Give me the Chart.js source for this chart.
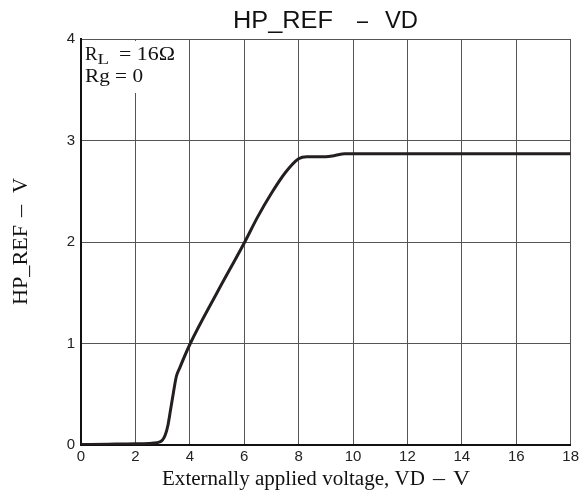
<!DOCTYPE html>
<html>
<head>
<meta charset="utf-8">
<script src="https://cdn.jsdelivr.net/npm/chart.js@4.4.1/dist/chart.umd.min.js"></script>
<style>
  html, body { margin: 0; padding: 0; background: #fff; }
  #wrap { width: 582px; height: 495px; }
</style>
</head>
<body>
<div id="wrap"><canvas id="chart"></canvas></div>
<script>
  // values
  var vd = [0, 1, 2, 2.6, 2.9, 3.0, 3.1, 3.2, 3.3, 3.4, 3.5, 3.63, 4, 5, 6, 6.5, 7, 7.5, 8, 8.3, 9, 9.3, 9.7, 10, 14, 18];
  var hpRef = [0.005, 0.008, 0.012, 0.018, 0.03, 0.05, 0.1, 0.2, 0.36, 0.52, 0.67, 0.76, 0.99, 1.5, 1.99, 2.25, 2.48, 2.68, 2.82, 2.84, 2.84, 2.85, 2.87, 2.87, 2.87, 2.87];
  var xTicks = [0, 2, 4, 6, 8, 10, 12, 14, 16, 18];
  var yTicks = [0, 1, 2, 3, 4];

  var points = vd.map(function (v, i) { return { x: v, y: hpRef[i] }; });

  var SERIF = "'Liberation Serif'";
  var SANS = "'Liberation Sans'";

  // draw text squeezed/stretched to span x0..x1 (the scan is wider than the fonts)
  function fitText(c, text, x0, x1, base, font) {
    c.save();
    c.font = font;
    c.textAlign = "left";
    c.textBaseline = "alphabetic";
    var w = c.measureText(text).width;
    c.translate(x0, base);
    c.scale((x1 - x0) / w, 1);
    c.fillText(text, 0, 0);
    c.restore();
  }

  var extras = {
    id: "extras",
    beforeDatasetsDraw: function (chart) {
      var c = chart.ctx, a = chart.chartArea;
      // condition note, blanks the grid behind it
      c.save();
      c.fillStyle = "#fff";
      c.fillRect(a.left + 2, a.top + 2, 96, 52);
      c.fillStyle = "#111";
      fitText(c, "R", 85, 97.5, 60, "18px " + SERIF);
      fitText(c, "L", 97.5, 109, 64, "15px " + SERIF);
      fitText(c, "= 16\u03A9", 119, 175, 60, "18px " + SERIF);
      fitText(c, "Rg = 0", 85, 143, 82, "18px " + SERIF);
      c.restore();
    },
    afterDraw: function (chart) {
      var c = chart.ctx;
      c.save();
      c.fillStyle = "#111";
      // chart title
      fitText(c, "HP_REF", 233, 333, 28, "23px " + SANS);
      fitText(c, "\u2013", 357, 368, 28, "23px " + SANS);
      fitText(c, "VD", 385, 418, 28, "23px " + SANS);
      // x axis title
      fitText(c, "Externally applied voltage, VD", 162, 425, 485, "20px " + SERIF);
      fitText(c, "\u2013", 433, 445, 485, "20px " + SERIF);
      fitText(c, "V", 453, 470, 485, "20px " + SERIF);
      // y axis title, rotated; along-text coordinates measured upward from y = 0
      c.translate(0, 0);
      c.rotate(-Math.PI / 2);
      fitText(c, "HP_REF", -305, -225, 27, "22px " + SERIF);
      fitText(c, "\u2013", -217, -205, 27, "22px " + SERIF);
      fitText(c, "V", -193, -178, 27, "22px " + SERIF);
      c.restore();
    }
  };

  var ctx = document.getElementById("chart").getContext("2d");
  var myChart = new Chart(ctx, {
    type: "line",
    data: {
      datasets: [
        {
          data: points,
          borderColor: "#231f20",
          borderWidth: 3,
          pointRadius: 0,
          cubicInterpolationMode: "monotone",
          fill: false,
        },
      ],
    },
    options: {
      responsive: true,
      maintainAspectRatio: false,
      animation: false,
      layout: { padding: { top: 39, right: 10, left: 0, bottom: 0 } },
      plugins: { legend: { display: false }, tooltip: { enabled: false } },
      scales: {
        x: {
          type: "linear",
          min: 0,
          max: 18,
          afterBuildTicks: function (s) { s.ticks = xTicks.map(function (v) { return { value: v }; }); },
          afterFit: function (s) { s.height = 50; },
          grid: { color: "#555", lineWidth: 1, drawTicks: false },
          border: { color: "#111", width: 2 },
          ticks: { color: "#222", padding: 3, maxRotation: 0, font: { family: SANS, size: 15 } },
        },
        y: {
          min: 0,
          max: 4,
          afterBuildTicks: function (s) { s.ticks = yTicks.map(function (v) { return { value: v }; }); },
          afterFit: function (s) { s.width = 81; },
          grid: { color: "#555", lineWidth: 1, drawTicks: false },
          border: { color: "#111", width: 2 },
          ticks: { color: "#222", padding: 6, font: { family: SANS, size: 15 } },
        },
      },
    },
    plugins: [extras],
  });
</script>
</body>
</html>
